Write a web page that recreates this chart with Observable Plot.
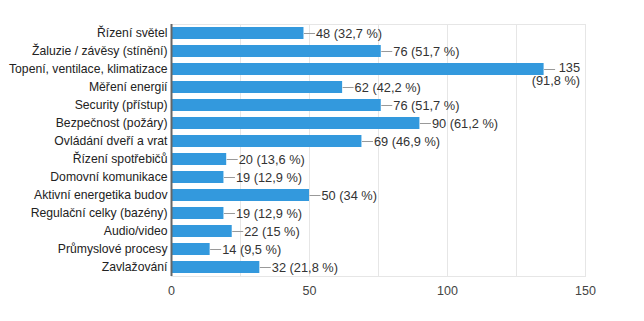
<!DOCTYPE html>
<html>
<head>
<meta charset="utf-8">
<script src="https://cdn.jsdelivr.net/npm/d3@7"></script>
<script src="https://cdn.jsdelivr.net/npm/@observablehq/plot@0.6"></script>
<style>
  html, body { margin: 0; padding: 0; background: #fff; }
  svg { font-family: "Liberation Sans", Arial, sans-serif; }
</style>
</head>
<body>
<div id="chart"></div>
<script>
const categories = [
  "Řízení světel",
  "Žaluzie / závěsy (stínění)",
  "Topení, ventilace, klimatizace",
  "Měření energií",
  "Security (přístup)",
  "Bezpečnost (požáry)",
  "Ovládání dveří a vrat",
  "Řízení spotřebičů",
  "Domovní komunikace",
  "Aktivní energetika budov",
  "Regulační celky (bazény)",
  "Audio/video",
  "Průmyslové procesy",
  "Zavlažování"
];
const counts = [48, 76, 135, 62, 76, 90, 69, 20, 19, 50, 19, 22, 14, 32];
const percents = ["32,7", "51,7", "91,8", "42,2", "51,7", "61,2", "46,9", "13,6", "12,9", "34", "12,9", "15", "9,5", "21,8"];
const xTicks = [0, 50, 100, 150];
const gridTicks = [25, 50, 75, 100, 125];

const data = categories.map((c, i) => ({category: c, count: counts[i], pct: percents[i]}));
const wrapAbove = 120;

const leader = {
  draw(context) { context.moveTo(0, 0); context.lineTo(11, 0); }
};

const chart = Plot.plot({
  width: 644,
  height: 321,
  marginLeft: 171,
  marginRight: 59,
  marginTop: 24,
  marginBottom: 45,
  style: {fontFamily: "'Liberation Sans', Arial, sans-serif", fontSize: "12px", color: "#222"},
  x: {domain: [0, 150], label: null},
  y: {domain: categories, label: null, paddingInner: 0.36, paddingOuter: 0.18},
  marks: [
    Plot.gridX(gridTicks, {stroke: "#e6e6e6", strokeOpacity: 1}),
    Plot.frame({stroke: "#e6e6e6"}),
    Plot.axisX(xTicks, {tickSize: 0, tickPadding: 10, fill: "#444", fontSize: 12.5}),
    Plot.axisY({tickSize: 0, tickPadding: 4, fill: "#222", fontSize: 12.2}),
    Plot.barX(data, {x: "count", y: "category", fill: "#3399dd"}),
    Plot.ruleX([0], {stroke: "#666", strokeWidth: 2}),
    Plot.dot(data, {x: "count", y: "category", symbol: leader, stroke: "#999", strokeWidth: 1, r: 4}),
    Plot.text(data.filter(d => d.count <= wrapAbove), {
      x: "count", y: "category",
      text: d => `${d.count} (${d.pct} %)`,
      textAnchor: "start", dx: 12, fill: "#333", fontSize: 12.8
    }),
    Plot.text(data.filter(d => d.count > wrapAbove), {
      x: "count", y: "category",
      text: d => `${d.count}\n(${d.pct} %)`,
      textAnchor: "end", lineAnchor: "top", lineHeight: 1.05, dx: 36, dy: -7, fill: "#333", fontSize: 12.8
    })
  ]
});
document.getElementById("chart").appendChild(chart);
</script>
</body>
</html>
